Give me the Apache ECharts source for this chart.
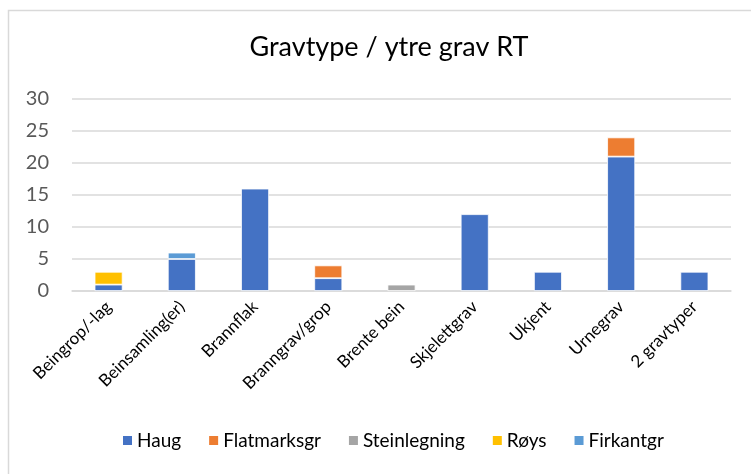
<!DOCTYPE html>
<html><head><meta charset="utf-8">
<script src="https://cdn.jsdelivr.net/npm/echarts@6/dist/echarts.min.js"></script>
<style>html,body{margin:0;padding:0;background:#fff}#c{width:751px;height:474px}</style>
</head><body><div id="c"></div>
<script>
const categories = ['Beingrop/-lag','Beinsamling(er)','Brannflak','Branngrav/grop','Brente bein','Skjelettgrav','Ukjent','Urnegrav','2 gravtyper'];
const haug        = [1, 5, 16, 2, null, 12, 3, 21, 3];
const flatmarksgr = [null, null, null, 2, null, null, null, 3, null];
const steinlegning= [null, null, null, null, 1, null, null, null, null];
const roys        = [2, null, null, null, null, null, null, null, null];
const firkantgr   = [null, 1, null, null, null, null, null, null, null];
const yTicks = [0, 5, 10, 15, 20, 25, 30];

const FONT = 'Lato';
const mk = (name, data, color) => ({
  name, type: 'bar', stack: 'all', data, barWidth: 28,
  itemStyle: { color, borderColor: '#fff', borderWidth: 0.8 }
});
const chart = echarts.init(document.getElementById('c'));
chart.setOption({
  animation: false,
  textStyle: { fontFamily: FONT },
  title: { text: 'Gravtype / ytre grav RT', left: 384, textAlign: 'center', top: 29,
    textStyle: { fontFamily: FONT, fontSize: 27, fontWeight: 'normal', color: '#000' } },
  graphic: [{ type: 'rect', shape: { x: 8.5, y: 10.5, width: 800, height: 600 },
    style: { fill: 'none', stroke: '#d9d9d9', lineWidth: 1.5 }, silent: true }],
  grid: { left: 72, right: 20, top: 99, bottom: 183, containLabel: false },
  legend: { bottom: 19, left: 116, itemWidth: 11, itemHeight: 11, itemGap: 26,
    icon: 'rect', textStyle: { fontFamily: FONT, fontSize: 19, color: '#000', padding: [0,0,0,-1] } },
  xAxis: { type: 'category', data: categories,
    axisLine: { lineStyle: { color: '#d9d9d9', width: 1.5 } },
    axisTick: { show: false },
    axisLabel: { rotate: 45, fontSize: 17, color: '#000', margin: 13, interval: 0, hideOverlap: false } },
  yAxis: { type: 'value', min: 0, max: 30, interval: 5,
    axisLine: { show: false }, axisTick: { show: false },
    splitLine: { lineStyle: { color: '#d9d9d9', width: 1.5 } },
    axisLabel: { fontSize: 20, color: '#595959', margin: 23,
      formatter: v => yTicks.includes(v) ? String(v) : '' } },
  series: [
    mk('Haug', haug, '#4472C4'),
    mk('Flatmarksgr', flatmarksgr, '#ED7D31'),
    mk('Steinlegning', steinlegning, '#A5A5A5'),
    mk('Røys', roys, '#FFC000'),
    mk('Firkantgr', firkantgr, '#5B9BD5')
  ]
});
</script></body></html>
